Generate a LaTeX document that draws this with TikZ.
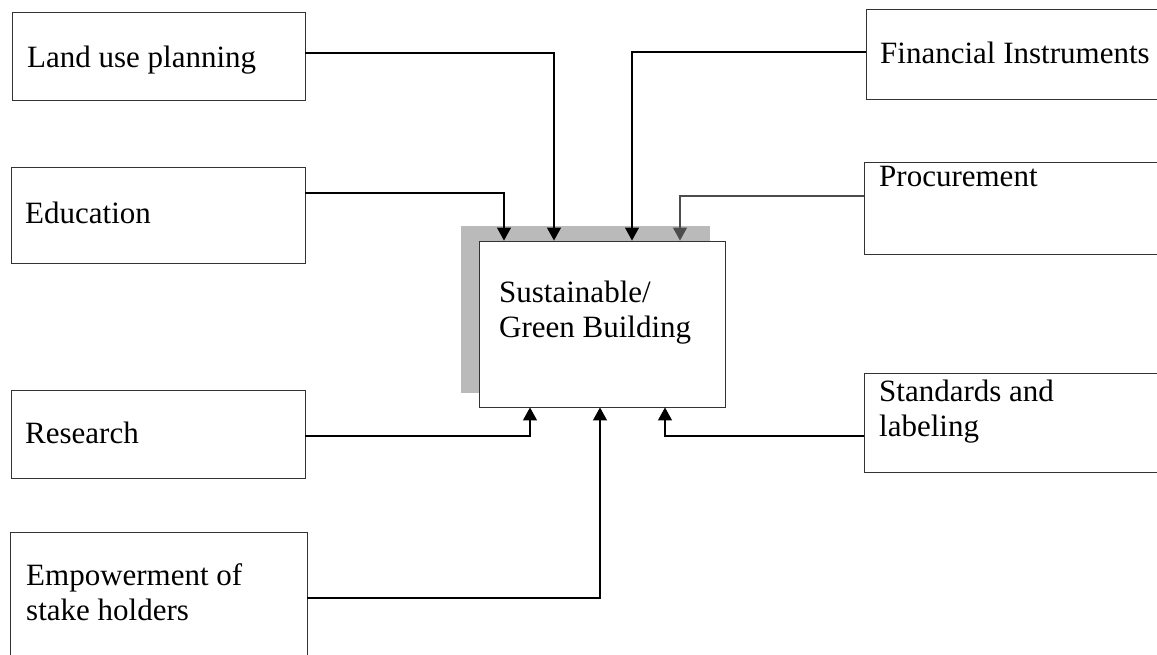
\documentclass[tikz,border=0pt]{standalone}
\usepackage{fontspec}
\setmainfont{Liberation Serif}
\usetikzlibrary{arrows.meta}

\tikzset{
  box/.style={draw=black!80, line width=0.9pt, rectangle, inner sep=0pt},
  lbl/.style={anchor=base west, inner sep=0pt, align=left,
    font=\fontsize{31}{35}\selectfont},
  conn/.style={line width=1.2pt, -{Triangle[width=14pt,length=13pt]}}
}

\begin{document}
\begin{tikzpicture}[x=1pt,y=-1pt]
\useasboundingbox (0,0) rectangle (1157,654);

% centre block with its shadow
\fill [black!27] (461,226) rectangle (710,393);
\node [box, fill=white, minimum width=246pt, minimum height=166pt] (main) at (602,324) {};
\node [lbl] (mainT) at (499,337) {Sustainable/\\Green Building};

% left column
\node [box, minimum width=293pt, minimum height=88pt] (land) at (158.5,56) {};
\node [lbl] (landT) at (27,67) {Land use planning};
\node [box, minimum width=294pt, minimum height=96pt] (edu) at (158,215) {};
\node [lbl] (eduT) at (25,223) {Education};
\node [box, minimum width=294pt, minimum height=88pt] (res) at (158,434) {};
\node [lbl] (resT) at (25,443) {Research};
\node [box, minimum width=297pt, minimum height=168pt] (emp) at (158.5,616) {};
\node [lbl] (empT) at (26,620) {Empowerment of\\stake holders};

% right column
\node [box, minimum width=304pt, minimum height=90pt] (fin) at (1018,54) {};
\node [lbl] (finT) at (880,63) {Financial Instruments};
\node [box, minimum width=306pt, minimum height=92pt] (proc) at (1017,208) {};
\node [lbl] (procT) at (879,186) {Procurement};
\node [box, minimum width=306pt, minimum height=99pt] (std) at (1017,422.5) {};
\node [lbl] (stdT) at (879,436) {Standards and\\labeling};

% connectors into the top
\draw [conn] ([yshift=22pt]edu.east) -| ([xshift=-98pt]main.north);
\draw [conn] ([yshift=3pt]land.east) -| ([xshift=-48pt]main.north);
\draw [conn] ([yshift=2pt]fin.west) -| ([xshift=30pt]main.north);
\draw [conn, black!70] ([yshift=12pt]proc.west) -| ([xshift=78pt]main.north);

% connectors into the bottom
\draw [conn] ([yshift=-2pt]res.east) -| ([xshift=-72pt]main.south);
\draw [conn] ([yshift=18pt]emp.east) -| ([xshift=-2pt]main.south);
\draw [conn] ([yshift=-13.5pt]std.west) -| ([xshift=63pt]main.south);

\end{tikzpicture}
\end{document}
